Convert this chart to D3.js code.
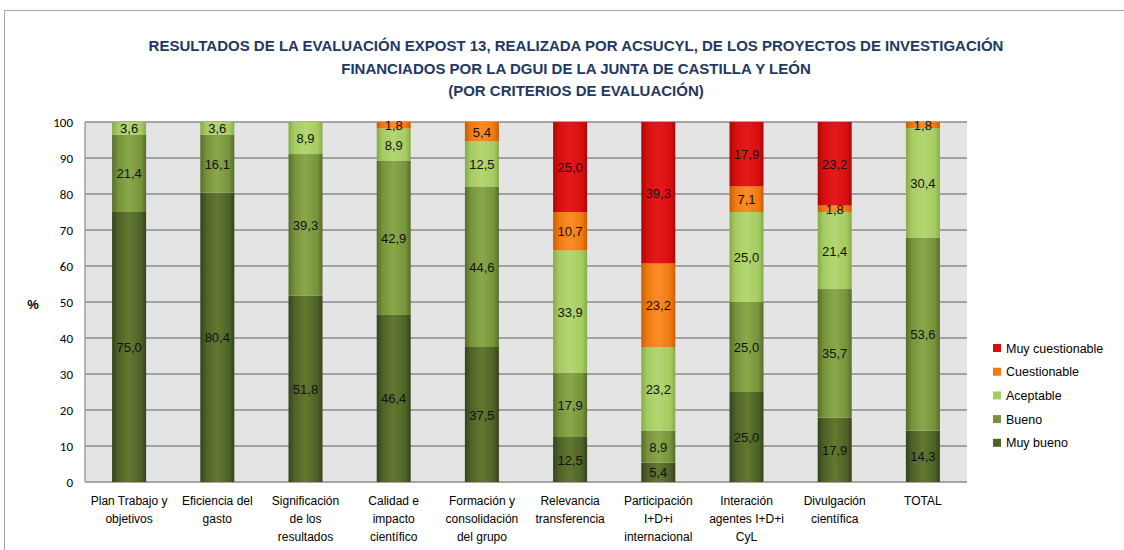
<!DOCTYPE html>
<html><head><meta charset="utf-8">
<script src="https://cdn.jsdelivr.net/npm/d3@7"></script>
<style>
body{margin:0;background:#fff;}
svg{display:block;}
</style></head>
<body>
<svg id="chart" width="1124" height="550"></svg>
<script>
const categories = [
  ["Plan Trabajo y","objetivos"],
  ["Eficiencia del","gasto"],
  ["Significación","de los","resultados"],
  ["Calidad e","impacto","científico"],
  ["Formación y","consolidación","del grupo"],
  ["Relevancia","transferencia"],
  ["Participación","I+D+i","internacional"],
  ["Interación","agentes I+D+i","CyL"],
  ["Divulgación","científica"],
  ["TOTAL"]
];
const seriesNames = ["Muy bueno","Bueno","Aceptable","Cuestionable","Muy cuestionable"];
const muyBueno        = [75.0, 80.4, 51.8, 46.4, 37.5, 12.5, 5.4, 25.0, 17.9, 14.3];
const bueno           = [21.4, 16.1, 39.3, 42.9, 44.6, 17.9, 8.9, 25.0, 35.7, 53.6];
const aceptable       = [3.6, 3.6, 8.9, 8.9, 12.5, 33.9, 23.2, 25.0, 21.4, 30.4];
const cuestionable    = [0, 0, 0, 1.8, 5.4, 10.7, 23.2, 7.1, 1.8, 1.8];
const muyCuestionable = [0, 0, 0, 0, 0, 25.0, 39.3, 17.9, 23.2, 0];
const yTicks = [0,10,20,30,40,50,60,70,80,90,100];
const titleLines = [
  "RESULTADOS DE LA EVALUACIÓN  EXPOST 13, REALIZADA POR ACSUCYL, DE LOS PROYECTOS DE INVESTIGACIÓN",
  "FINANCIADOS POR LA DGUI DE LA JUNTA DE CASTILLA Y LEÓN",
  "(POR CRITERIOS DE EVALUACIÓN)"
];

const seriesValues = [muyBueno, bueno, aceptable, cuestionable, muyCuestionable];
const colors = ["#4f6228","#77933c","#a6cc62","#f07a12","#d90f0f"];
const darks  = ["#34421a","#566d28","#86ab48","#c85d06","#a80808"];
const lights = ["#62782f","#8aa84a","#b4d672","#fb8c2a","#e31a1a"];

const svg = d3.select("#chart");
const font = "'Liberation Sans Narrow','Liberation Sans',Arial,sans-serif";

// outer frame
svg.append("rect").attr("x",4.5).attr("y",10.5).attr("width",1130).attr("height",560)
  .attr("fill","none").attr("stroke","#a6a6a6").attr("stroke-width",1);

// title
svg.append("g").selectAll("text").data(titleLines).join("text")
  .attr("x",576).attr("y",(d,i)=>51+i*22.5)
  .attr("text-anchor","middle").attr("font-family",font).attr("font-weight","bold")
  .attr("font-size","15px").attr("fill","#1f3864").text(d=>d);

const margin = {left:85, right:967, top:122, bottom:482};
const x = d3.scaleBand().domain(d3.range(categories.length)).range([margin.left, margin.right]).paddingInner(0).paddingOuter(0);
const y = d3.scaleLinear().domain([0,100]).range([margin.bottom, margin.top]).clamp(true);
const barW = 34;

// defs gradients
const defs = svg.append("defs");
colors.forEach((c,i)=>{
  const g = defs.append("linearGradient").attr("id","g"+i).attr("x1","0").attr("x2","1").attr("y1","0").attr("y2","0");
  g.append("stop").attr("offset","0").attr("stop-color",darks[i]);
  g.append("stop").attr("offset","0.18").attr("stop-color",c);
  g.append("stop").attr("offset","0.5").attr("stop-color",lights[i]);
  g.append("stop").attr("offset","0.85").attr("stop-color",c);
  g.append("stop").attr("offset","1").attr("stop-color",darks[i]);
});

// plot background
svg.append("rect").attr("x",margin.left).attr("y",margin.top)
  .attr("width",margin.right-margin.left).attr("height",margin.bottom-margin.top).attr("fill","#e4e4e4");

// gridlines
svg.append("g").selectAll("line").data(yTicks).join("line")
  .attr("x1",margin.left).attr("x2",margin.right)
  .attr("y1",d=>y(d)).attr("y2",d=>y(d))
  .attr("stroke","#8c8c8c").attr("stroke-width",1.6);
svg.append("line").attr("x1",margin.left).attr("x2",margin.left).attr("y1",margin.top).attr("y2",margin.bottom)
  .attr("stroke","#a0a0a0").attr("stroke-width",1.5);

// y axis
const yAxis = d3.axisLeft(y).tickValues(yTicks).tickSize(0).tickPadding(12);
const ya = svg.append("g").attr("transform",`translate(${margin.left},0)`).call(yAxis);
ya.select(".domain").remove();
ya.selectAll("text").attr("font-family","Carlito,'Liberation Sans',sans-serif").attr("font-size","13px").attr("fill","#000");

svg.append("text").attr("x",33).attr("y",309).attr("text-anchor","middle")
  .attr("font-family","'Liberation Sans',sans-serif").attr("font-weight","bold").attr("font-size","13px").text("%");

// stack
const table = categories.map((c,i)=>{
  const o = {i};
  seriesValues.forEach((s,k)=>o[k]=s[i]);
  return o;
});
const stack = d3.stack().keys(d3.range(seriesValues.length))(table);

const layers = svg.append("g").selectAll("g").data(stack).join("g")
  .attr("fill",(d,k)=>`url(#g${k})`);
layers.selectAll("rect").data(d=>d.filter(p=>p[1]-p[0]>0)).join("rect")
  .attr("x",p=>x(p.data.i)+x.bandwidth()/2-barW/2)
  .attr("width",barW)
  .attr("y",p=>y(p[1]))
  .attr("height",p=>y(p[0])-y(p[1]));

// labels
const fmt = v => v.toFixed(1).replace(".",",");
const lab = svg.append("g");
stack.forEach((layer,k)=>{
  layer.forEach(p=>{
    const v = p[1]-p[0];
    if(v<=0) return;
    lab.append("text")
      .attr("x",x(p.data.i)+x.bandwidth()/2)
      .attr("y",(y(p[0])+y(p[1]))/2+5)
      .attr("text-anchor","middle")
      .attr("font-family","'Liberation Sans',sans-serif").attr("font-size","13px")
      .attr("fill","#111").text(fmt(v));
  });
});

// x labels
const xl = svg.append("g");
categories.forEach((lines,i)=>{
  const t = xl.append("text").attr("text-anchor","middle")
    .attr("font-family","'Liberation Sans',sans-serif").attr("font-size","12px").attr("fill","#000");
  lines.forEach((l,j)=>{
    t.append("tspan").attr("x",x(i)+x.bandwidth()/2).attr("y",505+j*18).text(l);
  });
});

// legend
const legendOrder = [4,3,2,1,0];
const lg = svg.append("g");
legendOrder.forEach((k,j)=>{
  const yy = 348 + j*23.7;
  lg.append("rect").attr("x",993).attr("y",yy-4).attr("width",8).attr("height",8).attr("fill",colors[k]);
  lg.append("text").attr("x",1006).attr("y",yy+4.5).attr("font-family","'Liberation Sans',sans-serif")
    .attr("font-size","12.5px").attr("fill","#000").text(seriesNames[k]);
});
</script>
</body></html>
